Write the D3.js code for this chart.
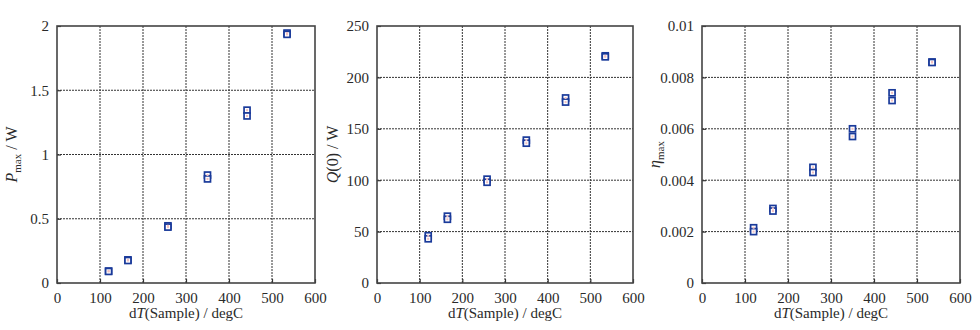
<!DOCTYPE html>
<html><head><meta charset="utf-8">
<script src="https://cdn.jsdelivr.net/npm/d3@7"></script>
<style>
html,body{margin:0;padding:0;background:#fff;}
svg text{font-family:"Liberation Serif","DejaVu Serif",serif !important;fill:#2a2a2a;}
</style></head>
<body><svg id="c" width="980" height="330"></svg>
<script>
const dT = [120, 165, 258, 350, 442, 535];
const pmaxA = [0.093, 0.18, 0.445, 0.84, 1.345, 1.945];
const pmaxB = [0.09, 0.175, 0.435, 0.81, 1.30, 1.935];
const q0A = [46, 65, 101, 139, 180, 221];
const q0B = [43, 62, 98, 136, 176, 220];
const etaA = [0.00215, 0.0029, 0.0045, 0.0060, 0.0074, 0.0086];
const etaB = [0.0020, 0.0028, 0.0043, 0.0057, 0.0071, 0.00858];
const xTicks = [0, 100, 200, 300, 400, 500, 600];
const pTicks = [0, 0.5, 1, 1.5, 2];
const qTicks = [0, 50, 100, 150, 200, 250];
const eTicks = [0, 0.002, 0.004, 0.006, 0.008, 0.01];

const svg = d3.select("#c");
const panels = [
  {left:57, right:315, yMax:2, ticks:pTicks, a:pmaxA, b:pmaxB, fmt:d=>String(d), titleX:17, title:"P"},
  {left:377, right:633, yMax:250, ticks:qTicks, a:q0A, b:q0B, fmt:d=>String(d), titleX:338, title:"Q"},
  {left:702, right:960, yMax:0.01, ticks:eTicks, a:etaA, b:etaB, fmt:d=>d===0?"0":String(+d.toFixed(3)), titleX:660, title:"E"}
];
const plotTop = 26, plotBottom = 283;

panels.forEach(p => {
  const x = d3.scaleLinear().domain([0, 600]).range([p.left, p.right]);
  const y = d3.scaleLinear().domain([0, p.yMax]).range([plotBottom, plotTop]);
  const g = svg.append("g");
  g.selectAll(".gx").data(xTicks.slice(1, -1)).join("line")
    .attr("x1", d => x(d)).attr("x2", d => x(d)).attr("y1", plotTop).attr("y2", plotBottom)
    .attr("stroke", "#333").attr("stroke-width", 1).attr("stroke-dasharray", "2,1");
  g.selectAll(".gy").data(p.ticks.slice(1, -1)).join("line")
    .attr("y1", d => y(d)).attr("y2", d => y(d)).attr("x1", p.left).attr("x2", p.right)
    .attr("stroke", "#333").attr("stroke-width", 1).attr("stroke-dasharray", "2,1");
  const ax = g.append("g").attr("transform", `translate(0,${plotBottom})`)
    .call(d3.axisBottom(x).tickValues(xTicks).tickSize(-4).tickPadding(9).tickFormat(d => d));
  const ay = g.append("g").attr("transform", `translate(${p.left},0)`)
    .call(d3.axisLeft(y).tickValues(p.ticks).tickSize(-4).tickPadding(8).tickFormat(p.fmt));
  [ax, ay].forEach(a => {
    a.select(".domain").remove();
    a.selectAll("line").attr("stroke", "#333").attr("stroke-width", 1.2);
    a.selectAll("text").attr("font-size", 15).attr("fill", "#2a2a2a");
  });
  g.append("rect").attr("x", p.left).attr("y", plotTop).attr("width", p.right - p.left).attr("height", plotBottom - plotTop)
    .attr("fill", "none").attr("stroke", "#444").attr("stroke-width", 1.6);
  const pts = dT.flatMap((d, i) => [{x: d, y: p.a[i]}, {x: d, y: p.b[i]}]);
  g.selectAll(".m").data(pts).join("rect")
    .attr("x", d => x(d.x) - 3).attr("y", d => y(d.y) - 3).attr("width", 6).attr("height", 6)
    .attr("fill", "#fff").attr("stroke", "#1a3a9a").attr("stroke-width", 1.7);
  g.selectAll(".r").data(pts).join("rect")
    .attr("x", d => x(d.x) - 1).attr("y", d => y(d.y) - 1).attr("width", 2).attr("height", 2)
    .attr("fill", "#f3c0c0").attr("stroke", "none");
  const xt = g.append("text").attr("x", (p.left + p.right) / 2).attr("y", 318)
    .attr("text-anchor", "middle").attr("font-size", 15);
  xt.append("tspan").text("d");
  xt.append("tspan").attr("font-style", "italic").text("T");
  xt.append("tspan").text("(Sample) / degC");
  const yt = g.append("text").attr("transform", `translate(${p.titleX},${(plotTop + plotBottom) / 2}) rotate(-90)`)
    .attr("text-anchor", "middle").attr("font-size", 16);
  if (p.title === "P") {
    yt.append("tspan").attr("font-style", "italic").text("P");
    yt.append("tspan").attr("font-size", 11).attr("dy", 4).text("max");
    yt.append("tspan").attr("dy", -4).text(" / W");
  } else if (p.title === "Q") {
    yt.append("tspan").attr("font-style", "italic").text("Q");
    yt.append("tspan").text("(0) / W");
  } else {
    yt.append("tspan").attr("font-style", "italic").text("η");
    yt.append("tspan").attr("font-size", 11).attr("dy", 4).text("max");
  }
});
</script></body></html>
